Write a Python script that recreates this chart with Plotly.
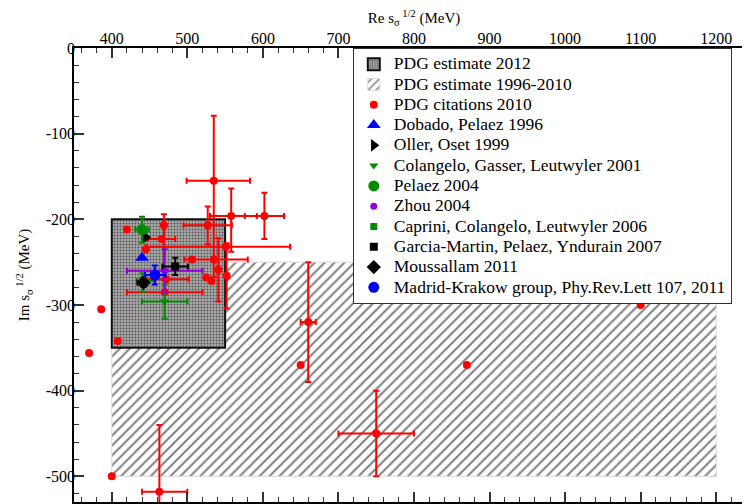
import numpy as np
import plotly.graph_objects as go

FONT = "Liberation Serif, Times New Roman, serif"
nan = np.nan

# ---------------- data (MeV) ----------------
# PDG estimate boxes: [Re min, Re max], [Im min, Im max]
pdg2012_re = [400, 550]
pdg2012_im = [-350, -200]
pdg1996_re = [400, 1200]
pdg1996_im = [-500, -250]

# PDG citations 2010 (points; nan = no error bar)
cit_re = [370, 386, 408, 400, 420, 445, 506, 525, 532, 650, 870, 1100,
          750, 463, 535, 558, 602, 527, 469, 466, 551, 535, 541, 552, 472, 470, 660]
cit_im = [-356, -305, -342, -500, -212, -235, -247, -268, -272, -370, -370, -300,
          -450, -518, -155, -196, -196, -207, -207, -223, -232, -247, -259, -266, -270, -285, -320]
cit_re_minus = [nan] * 12 + [50, 23, 36, 28, 26, 32, nan, 18, 105, 39, nan, nan, 30, 50, 10]
cit_re_plus = [nan] * 12 + [50, 37, 48, 34, 26, 32, nan, 18, 85, 45, nan, nan, 30, 50, 10]
cit_im_up = [nan] * 12 + [50, 78, 76, 32, 27, 22, 13, nan, nan, nan, 37, 38, nan, nan, 70]
cit_im_down = [nan] * 12 + [50, 78, 112, 42, 27, 22, 64, nan, nan, nan, 37, 38, nan, nan, 70]

# Individual determinations
dobado_re, dobado_im = [440], [-245]
oller_re, oller_im = [445], [-221]
cgl_re, cgl_im = [470], [-296]
cgl_err_re, cgl_err_im = [30], [20]
pelaez_re, pelaez_im = [440], [-212]
pelaez_err_re, pelaez_err_im = [9], [15]
zhou_re, zhou_im = [470], [-260]
zhou_err_re, zhou_err_im = [50], [25]
ccl_re, ccl_im = [441], [-272]
ccl_err_re_minus, ccl_err_re_plus = [8], [16]
ccl_err_im_up, ccl_err_im_down = [9], [12.5]
gpy_re, gpy_im = [484], [-255]
gpy_err_re, gpy_err_im = [17], [10]
mous_re, mous_im = [442], [-274]
mous_err_re_minus, mous_err_re_plus = [8], [5]
mous_err_im_up, mous_err_im_down = [6], [5]
mk_re, mk_im = [457], [-265]
mk_err_re_minus, mk_err_re_plus = [13], [14]
mk_err_im = [11]

x_tickvals = [400, 500, 600, 700, 800, 900, 1000, 1100, 1200]
y_tickvals = [0, -100, -200, -300, -400, -500]
y_ticktext = ["0", "-100", "-200", "-300", "-400", "-500"]

RED = "#ff0000"
BLUE = "#0000ff"
GREEN = "#008b00"
PURPLE = "#9400d3"
BLACK = "#000000"


def lname(s):
    return '<span style="font-size:17.5px">' + s + "</span>"


def box_bar(re, im, name, pattern, line, rank):
    return go.Bar(
        x=[(re[0] + re[1]) / 2], width=[re[1] - re[0]],
        base=[im[0]], y=[im[1] - im[0]],
        marker=dict(color="white", pattern=pattern, line=line),
        name=lname(name), legendrank=rank, hoverinfo="skip",
    )


fig = go.Figure()

fig.add_trace(box_bar(pdg1996_re, pdg1996_im, "PDG estimate 1996-2010",
                      dict(shape="/", size=7, solidity=0.28, fgcolor="#000", bgcolor="white"),
                      dict(color="#d8d8d8", width=1), 2))
fig.add_trace(box_bar(pdg2012_re, pdg2012_im, "PDG estimate 2012",
                      dict(shape=".", size=3, solidity=0.32, fgcolor="#000", bgcolor="#aaaaaa"),
                      dict(color="#111", width=2), 1))


def err(arr_plus, arr_minus, color):
    return dict(type="data", symmetric=False, array=np.array(arr_plus, dtype=float),
                arrayminus=np.array(arr_minus, dtype=float),
                color=color, thickness=2, width=3)


fig.add_trace(go.Scatter(
    x=cit_re, y=cit_im, mode="markers", name=lname("PDG citations 2010"),
    marker=dict(symbol="circle", size=8, color=RED),
    error_x=err(cit_re_plus, cit_re_minus, RED),
    error_y=err(cit_im_up, cit_im_down, RED),
    legendrank=3,
))

fig.add_trace(go.Scatter(
    x=dobado_re, y=dobado_im, mode="markers", name=lname("Dobado, Pelaez 1996"),
    marker=dict(symbol="triangle-up", size=12, color=BLUE), legendrank=4,
))
fig.add_trace(go.Scatter(
    x=oller_re, y=oller_im, mode="markers", name=lname("Oller, Oset 1999"),
    marker=dict(symbol="triangle-right", size=11, color=BLACK), legendrank=5,
))
fig.add_trace(go.Scatter(
    x=cgl_re, y=cgl_im, mode="markers", name=lname("Colangelo, Gasser, Leutwyler 2001"),
    marker=dict(symbol="triangle-down", size=8, color=GREEN),
    error_x=err(cgl_err_re, cgl_err_re, GREEN), error_y=err(cgl_err_im, cgl_err_im, GREEN),
    legendrank=6,
))
fig.add_trace(go.Scatter(
    x=pelaez_re, y=pelaez_im, mode="markers", name=lname("Pelaez 2004"),
    marker=dict(symbol="circle", size=11, color=GREEN),
    error_x=err(pelaez_err_re, pelaez_err_re, GREEN), error_y=err(pelaez_err_im, pelaez_err_im, GREEN),
    legendrank=7,
))
fig.add_trace(go.Scatter(
    x=zhou_re, y=zhou_im, mode="markers", name=lname("Zhou 2004"),
    marker=dict(symbol="circle", size=7, color=PURPLE),
    error_x=err(zhou_err_re, zhou_err_re, PURPLE), error_y=err(zhou_err_im, zhou_err_im, PURPLE),
    legendrank=8,
))
fig.add_trace(go.Scatter(
    x=ccl_re, y=ccl_im, mode="markers", name=lname("Caprini, Colangelo, Leutwyler 2006"),
    marker=dict(symbol="square", size=7, color=GREEN),
    error_x=err(ccl_err_re_plus, ccl_err_re_minus, GREEN),
    error_y=err(ccl_err_im_up, ccl_err_im_down, GREEN),
    legendrank=9,
))
fig.add_trace(go.Scatter(
    x=gpy_re, y=gpy_im, mode="markers", name=lname("Garcia-Martin, Pelaez, Yndurain 2007"),
    marker=dict(symbol="square", size=8, color=BLACK),
    error_x=err(gpy_err_re, gpy_err_re, BLACK), error_y=err(gpy_err_im, gpy_err_im, BLACK),
    legendrank=10,
))
fig.add_trace(go.Scatter(
    x=mous_re, y=mous_im, mode="markers", name=lname("Moussallam 2011"),
    marker=dict(symbol="diamond", size=11, color=BLACK),
    error_x=err(mous_err_re_plus, mous_err_re_minus, BLACK),
    error_y=err(mous_err_im_up, mous_err_im_down, BLACK),
    legendrank=11,
))
fig.add_trace(go.Scatter(
    x=mk_re, y=mk_im, mode="markers", name=lname("Madrid-Krakow group, Phy.Rev.Lett 107, 2011"),
    marker=dict(symbol="circle", size=11, color=BLUE),
    error_x=err(mk_err_re_plus, mk_err_re_minus, BLUE), error_y=err(mk_err_im, mk_err_im, BLUE),
    legendrank=12,
))

axis_common = dict(
    showgrid=False, zeroline=False, showline=True, linecolor="black", linewidth=1.5,
    mirror="ticks", ticks="inside", ticklen=10, tickwidth=1.5, tickcolor="#333",
    tickfont=dict(family=FONT, size=16, color="black"), automargin=False,
)

fig.update_layout(
    width=750, height=504,
    margin=dict(l=66, r=4, t=40, b=10),
    paper_bgcolor="white", plot_bgcolor="white",
    font=dict(family=FONT, size=16, color="black"),
    barmode="overlay",
    legend=dict(x=0.41, y=1, xanchor="left", yanchor="top", bgcolor="white",
                bordercolor="#333", borderwidth=1, tracegroupgap=0,
                font=dict(family=FONT, size=13.3, color="black")),
    xaxis=dict(
        side="top", range=[350, 1250], tickmode="array", tickvals=x_tickvals,
        ticklabelstandoff=-4,
        minor=dict(tickmode="linear", tick0=0, dtick=20, ticks="inside", ticklen=5,
                   tickwidth=1.2, tickcolor="#333", showgrid=False),
        title=dict(text="Re s<sub>σ</sub><sup> 1/2</sup> (MeV)", font=dict(family=FONT, size=15),
                   standoff=4),
        **axis_common,
    ),
    yaxis=dict(
        range=[-530, 0], tickmode="array", tickvals=y_tickvals, ticktext=y_ticktext,
        ticklabelstandoff=-6,
        minor=dict(tickmode="linear", tick0=0, dtick=20, ticks="inside", ticklen=5,
                   tickwidth=1.2, tickcolor="#333", showgrid=False),
        title=dict(text="Im s<sub>σ</sub><sup> 1/2</sup> (MeV)", font=dict(family=FONT, size=15),
                   standoff=12),
        **axis_common,
    ),
)

fig.write_html("out.html")
